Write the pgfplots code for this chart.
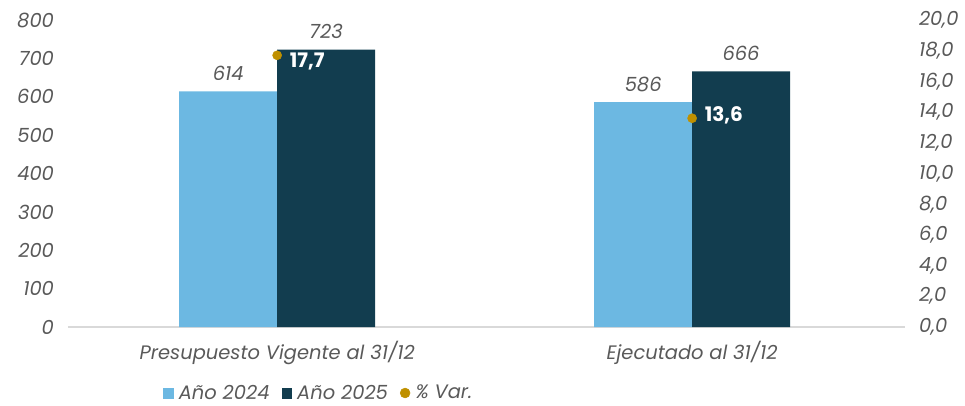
\documentclass[border=0pt]{standalone}
\usepackage{fontspec}
\setmainfont{Poppins}
\usepackage{pgfplots}
\pgfplotsset{compat=1.18}
\definecolor{lb}{HTML}{6CB8E2}
\definecolor{db}{HTML}{123D4F}
\definecolor{gd}{HTML}{BF9000}
\definecolor{tg}{HTML}{595959}
\definecolor{ln}{HTML}{D9D9D9}
\newcommand\tf{\fontsize{14.6}{17}\selectfont\itshape}
\begin{document}
\begin{tikzpicture}[font=\tf]
\path[use as bounding box] (-51pt,-58.5pt) rectangle (672.75pt,245.25pt);
\begin{axis}[
  scale only axis, width=627.75pt, height=230.25pt,
  xmin=-0.504, xmax=1.513, ymin=0, ymax=800,
  axis x line=bottom, axis y line=left,
  x axis line style={draw=ln, -, line width=0.8pt},
  y axis line style={draw=none},
  major tick length=0pt,
  xtick={0,1}, xticklabels={Presupuesto Vigente al 31/12, Ejecutado al 31/12},
  ytick={0,100,...,800},
  tick label style={text=tg, font=\tf},
  yticklabel style={xshift=-7pt},
  xticklabel style={yshift=-7pt},
  /pgf/number format/assume math mode=true,
  clip=false,
]
\addplot[ybar, bar width=0.236, bar shift=-0.118, fill=lb, draw=none,
  nodes near coords, nodes near coords style={text=tg, font=\tf, yshift=4.5pt, xshift=-36.7pt}]
  coordinates {(0,614) (1,586)};
\addplot[ybar, bar width=0.236, bar shift=0.118, fill=db, draw=none,
  nodes near coords, nodes near coords style={text=tg, font=\tf, yshift=4.5pt, xshift=36.7pt}]
  coordinates {(0,723) (1,666)};
\end{axis}
\begin{axis}[
  scale only axis, width=627.75pt, height=230.25pt,
  xmin=-0.504, xmax=1.513, ymin=0, ymax=20,
  axis x line=none, axis y line=right,
  y axis line style={draw=none},
  major tick length=0pt,
  ytick={0,2,...,20},
  yticklabel style={text=tg, font=\tf, xshift=7pt,
    /pgf/number format/.cd, fixed, fixed zerofill, precision=1, use comma, assume math mode=true},
  clip=false,
  legend style={draw=none, fill=none, at={(0.1085,-0.215)}, anchor=west,
    font=\tf, text=tg,
    /tikz/every even column/.append style={column sep=7pt},
    /tikz/every odd column/.append style={column sep=2pt}},
  legend columns=-1,
  legend cell align=left,
]
\addlegendimage{legend image code/.code={\fill[lb] (0pt,-3.7pt) rectangle (7.4pt,3.7pt);}}
\addlegendentry{Año 2024}
\addlegendimage{legend image code/.code={\fill[db] (0pt,-3.7pt) rectangle (7.4pt,3.7pt);}}
\addlegendentry{Año 2025}
\addlegendimage{legend image code/.code={\fill[gd] (3.7pt,0pt) circle (3.7pt);}}
\addlegendentry{\% Var.}
\addplot[only marks, mark=*, mark size=3.4pt, color=gd, forget plot]
  coordinates {(0,17.7) (1,13.6)};
\addplot[only marks, mark=none, forget plot, point meta=explicit symbolic,
  nodes near coords, nodes near coords style={anchor=west, text=white, font=\fontsize{15}{17}\selectfont\bfseries\upshape, xshift=6pt, yshift=-5pt}]
  coordinates {(0,17.7) [17,7]};
\addplot[only marks, mark=none, forget plot, point meta=explicit symbolic,
  nodes near coords, nodes near coords style={anchor=west, text=white, font=\fontsize{15}{17}\selectfont\bfseries\upshape, xshift=6pt, yshift=2pt}]
  coordinates {(1,13.6) [13,6]};
\end{axis}
\end{tikzpicture}
\end{document}
